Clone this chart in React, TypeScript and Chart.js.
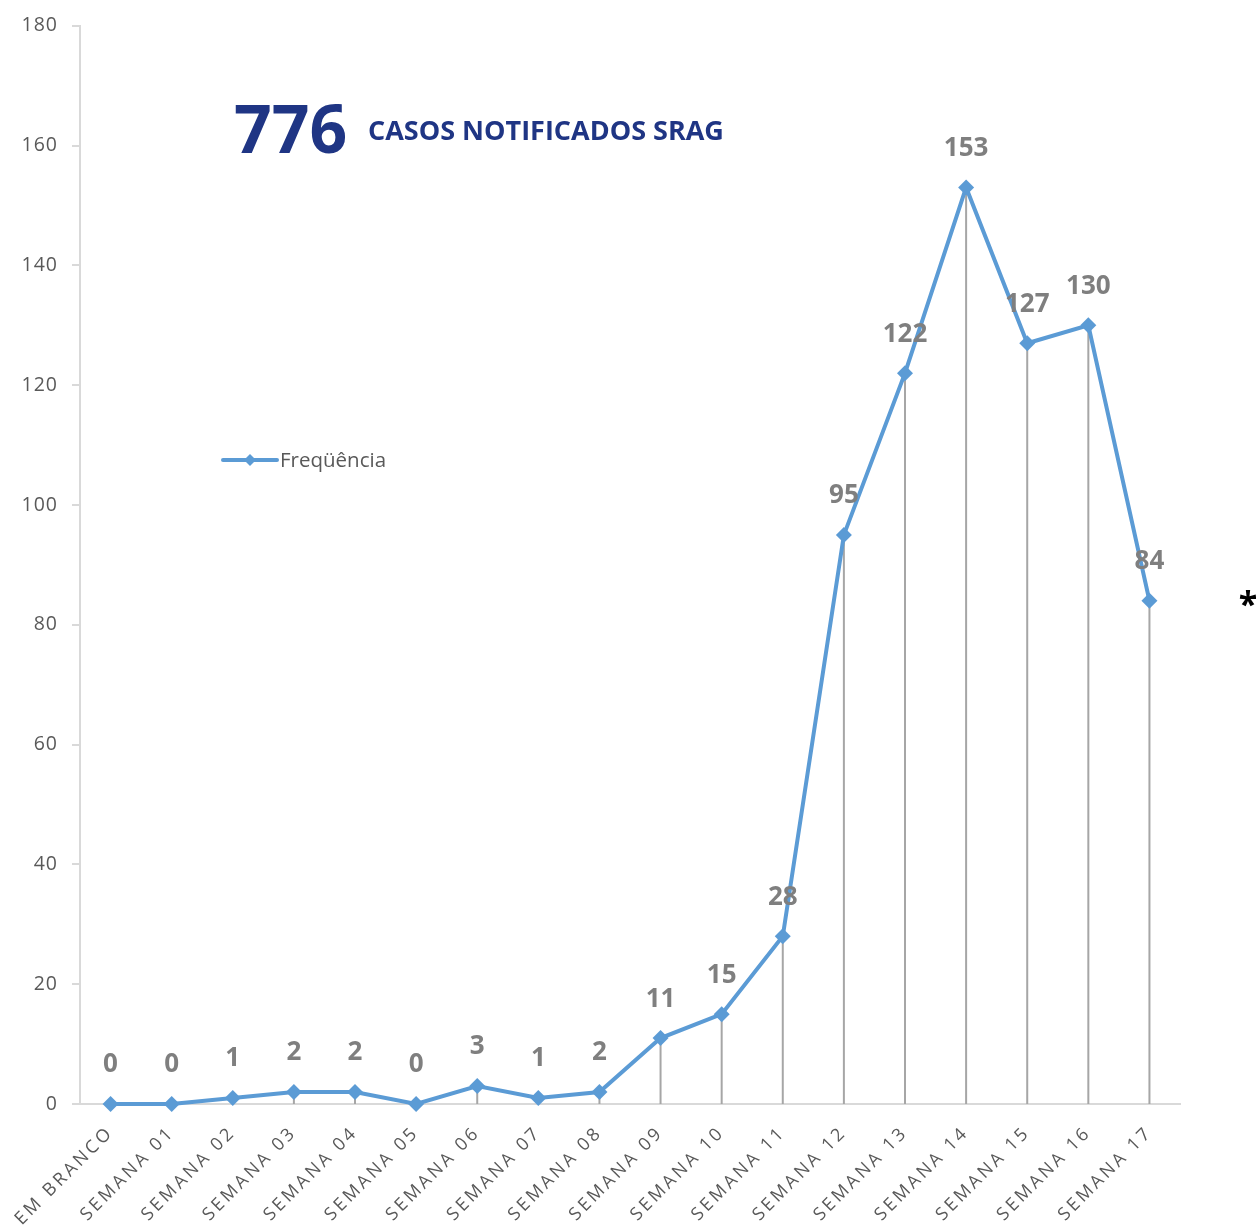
import React, { useEffect, useRef } from "react";
import { Chart, registerables } from "chart.js";

Chart.register(...registerables);

const categories = [
  "EM BRANCO", "SEMANA 01", "SEMANA 02", "SEMANA 03", "SEMANA 04", "SEMANA 05",
  "SEMANA 06", "SEMANA 07", "SEMANA 08", "SEMANA 09", "SEMANA 10", "SEMANA 11",
  "SEMANA 12", "SEMANA 13", "SEMANA 14", "SEMANA 15", "SEMANA 16", "SEMANA 17",
];
const frequencia = [0, 0, 1, 2, 2, 0, 3, 1, 2, 11, 15, 28, 95, 122, 153, 127, 130, 84];
const yTickValues = [0, 20, 40, 60, 80, 100, 120, 140, 160, 180];
const totalCasos = "776";
const titleText = "CASOS NOTIFICADOS SRAG";
const seriesLabel = "Freqüência";
const footnoteMark = "*";

const LINE_COLOR = "#5b9bd5";
const FONT = "'Open Sans', sans-serif";

const overlayPlugin = {
  id: "overlay",
  afterLayout(chart: any) {
    const xs = chart.scales.x;
    if (!xs.__wrapped) {
      const orig = xs.drawLabels.bind(xs);
      xs.drawLabels = (area: any) => {
        const c = chart.ctx;
        const prev = c.letterSpacing;
        c.letterSpacing = "3px";
        orig(area);
        c.letterSpacing = prev;
      };
      xs.__wrapped = true;
    }
    const ys = chart.scales.y;
    if (!ys.__wrapped) {
      const orig = ys.drawLabels.bind(ys);
      ys.drawLabels = (area: any) => {
        const c = chart.ctx;
        const prev = c.letterSpacing;
        c.letterSpacing = "1px";
        orig(area);
        c.letterSpacing = prev;
      };
      ys.__wrapped = true;
    }
  },
  beforeDatasetsDraw(chart: any) {
    const ctx = chart.ctx;
    const meta = chart.getDatasetMeta(0);
    const base = chart.scales.y.getPixelForValue(0);
    ctx.save();
    ctx.strokeStyle = "#a6a6a6";
    ctx.lineWidth = 2;
    meta.data.forEach((pt: any) => {
      ctx.beginPath();
      ctx.moveTo(pt.x, pt.y);
      ctx.lineTo(pt.x, base);
      ctx.stroke();
    });
    ctx.restore();
  },
  afterDatasetsDraw(chart: any) {
    const ctx = chart.ctx;
    const meta = chart.getDatasetMeta(0);
    ctx.save();
    ctx.letterSpacing = "0px";
    // data labels
    ctx.fillStyle = "#7f7f7f";
    ctx.font = `bold 26px ${FONT}`;
    ctx.textAlign = "center";
    ctx.textBaseline = "middle";
    meta.data.forEach((pt: any, i: number) => {
      ctx.fillText(String(frequencia[i]), pt.x, pt.y - 39);
    });

    // title
    ctx.textAlign = "left";
    ctx.textBaseline = "alphabetic";
    ctx.fillStyle = "#1f3584";
    ctx.font = `bold 66px ${FONT}`;
    ctx.fillText(totalCasos, 234, 153);
    ctx.font = `bold 27px ${FONT}`;
    ctx.fillText(titleText, 368, 140);

    // legend
    ctx.strokeStyle = LINE_COLOR;
    ctx.lineWidth = 4;
    ctx.lineCap = "round";
    ctx.beginPath();
    ctx.moveTo(223, 460);
    ctx.lineTo(277, 460);
    ctx.stroke();
    ctx.fillStyle = LINE_COLOR;
    ctx.beginPath();
    ctx.moveTo(250, 454);
    ctx.lineTo(256, 460);
    ctx.lineTo(250, 466);
    ctx.lineTo(244, 460);
    ctx.closePath();
    ctx.fill();
    ctx.fillStyle = "#595959";
    ctx.font = `20.5px ${FONT}`;
    ctx.textBaseline = "middle";
    ctx.fillText(seriesLabel, 280, 461);

    // footnote mark
    ctx.fillStyle = "#000000";
    ctx.font = `bold 34px ${FONT}`;
    ctx.textAlign = "center";
    ctx.textBaseline = "alphabetic";
    ctx.fillText(footnoteMark, 1248, 616);
    ctx.restore();
  },
};

export default function App() {
  const ref = useRef<HTMLCanvasElement | null>(null);
  useEffect(() => {
    document.body.style.margin = "0";
    const canvas = ref.current!;
    const chart = new Chart(canvas, {
      type: "line",
      data: {
        labels: categories,
        datasets: [
          {
            label: seriesLabel,
            data: frequencia,
            borderColor: LINE_COLOR,
            backgroundColor: LINE_COLOR,
            borderWidth: 4,
            pointStyle: "rectRot",
            pointRadius: 8,
            pointHoverRadius: 8,
            pointBorderWidth: 0,
            pointBackgroundColor: LINE_COLOR,
            tension: 0,
            clip: false as any,
          },
        ],
      },
      options: {
        responsive: false,
        animation: false,
        devicePixelRatio: 1,
        layout: { padding: { top: 23, right: 76, bottom: 0, left: 0 } },
        plugins: {
          legend: { display: false },
          tooltip: { enabled: false },
        },
        scales: {
          x: {
            offset: true,
            grid: { display: false, drawTicks: false },
            border: { display: true, color: "#d9d9d9", width: 2 },
            ticks: {
              color: "#595959",
              font: { family: FONT, size: 18 },
              maxRotation: 45,
              minRotation: 45,
              autoSkip: false,
              padding: 18,
            },
            afterFit(scale: any) {
              scale.height = 123;
            },
          },
          y: {
            min: 0,
            max: 180,
            afterBuildTicks(scale: any) {
              scale.ticks = yTickValues.map((v) => ({ value: v }));
            },
            grid: {
              display: true,
              drawOnChartArea: false,
              drawTicks: true,
              tickLength: 8,
              color: "#d9d9d9",
              lineWidth: 2,
            },
            border: { display: true, color: "#d9d9d9", width: 2 },
            ticks: {
              color: "#595959",
              font: { family: FONT, size: 19.5 },
              padding: 14,
            },
            afterFit(scale: any) {
              scale.width = 80;
            },
          },
        },
      },
      plugins: [overlayPlugin],
    });
    return () => chart.destroy();
  }, []);
  return (
    <div style={{ width: 1256, height: 1227 }}>
      <canvas ref={ref} width={1256} height={1227} style={{ display: "block" }} />
    </div>
  );
}
